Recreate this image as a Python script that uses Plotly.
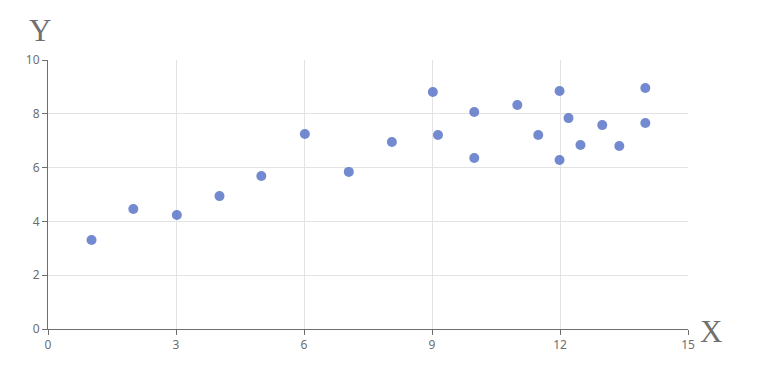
import plotly.graph_objects as go

x_vals = [1.02, 2, 3.02, 4.02, 5, 6.02, 7.05, 8.06, 9.02, 9.14, 9.99, 9.99, 11, 11.49,
          11.99, 12.2, 11.99, 12.48, 12.99, 13.39, 14, 14]
y_vals = [3.31, 4.46, 4.24, 4.94, 5.69, 7.25, 5.84, 6.95, 8.81, 7.21, 8.07, 6.36,
          8.33, 7.21, 8.85, 7.84, 6.28, 6.84, 7.58, 6.80, 8.96, 7.66]
x_ticks = [0, 3, 6, 9, 12, 15]
y_ticks = [0, 2, 4, 6, 8, 10]

fig = go.Figure()
fig.add_trace(go.Scatter(
    x=x_vals, y=y_vals, mode="markers",
    marker=dict(size=10, color="#5470c6", opacity=0.82, line=dict(width=0)),
    hoverinfo="x+y", showlegend=False,
))

axis_common = dict(
    showgrid=True, gridcolor="#e3e3e3", gridwidth=1,
    showline=True, linecolor="#6e6e6e", linewidth=1,
    ticks="outside", ticklen=5, tickcolor="#6e6e6e",
    tickfont=dict(family="Noto Sans, Open Sans, sans-serif", size=12, color="#6e6e6e"),
    zeroline=False, fixedrange=True,
)

fig.update_layout(
    width=782, height=386,
    margin=dict(l=48, r=94, t=60, b=57),
    paper_bgcolor="white", plot_bgcolor="white",
    xaxis=dict(range=[0, 15], tickvals=x_ticks, **axis_common),
    yaxis=dict(range=[0, 10], tickvals=y_ticks, **axis_common),
    annotations=[
        dict(text="Y", xref="paper", yref="paper", x=0, y=1, xshift=-8, yshift=30,
             showarrow=False, xanchor="center", yanchor="middle",
             font=dict(family="Liberation Serif, DejaVu Serif, serif", size=31, color="#707070")),
        dict(text="X", xref="paper", yref="paper", x=1, y=0, xshift=23, yshift=-2,
             showarrow=False, xanchor="center", yanchor="middle",
             font=dict(family="Liberation Serif, DejaVu Serif, serif", size=31, color="#707070")),
    ],
)

fig.write_html("out.html")
